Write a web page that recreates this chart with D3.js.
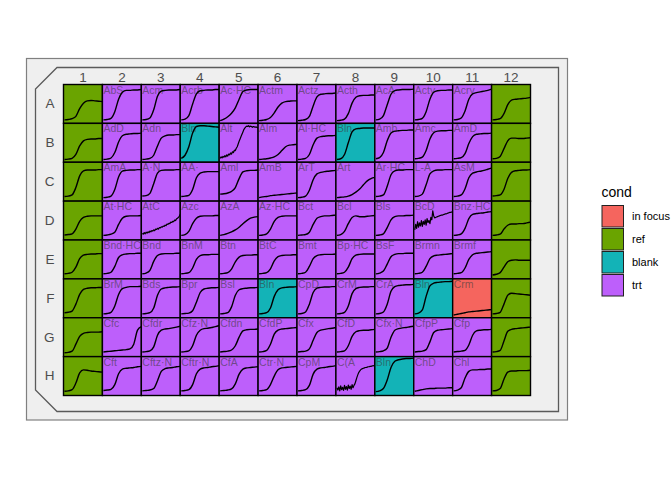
<!DOCTYPE html>
<html><head><meta charset="utf-8">
<script src="https://cdn.jsdelivr.net/npm/d3@7"></script>
<style>body{margin:0;background:#fff;} text{font-family:"Liberation Sans",Arial,sans-serif;}</style>
</head><body>
<script>
// ---------- data ----------
const colLabels = ["1","2","3","4","5","6","7","8","9","10","11","12"];
const rowLabels = ["A","B","C","D","E","F","G","H"];
const wellNames = [
  ["","AbS","Acm","Acrb","Ac·HC","Actm","Actz","Acth","AcA","Acty","Acry",""],
  ["","AdD","Adn","Bln","Alt","Alm","Al·HC","Bln","Amb","Amc","AmD",""],
  ["","AmA","A·N","AA·","Aml","AmB","ArT","Art","Ar·HC","L-A","AsM",""],
  ["","At·HC","AtC","Azc","AzA","Az·HC","Bct","Bcl","Bls","BcD","Bnz·HC",""],
  ["","Bnd·HC","Bnd","BnM","Btn","BtC","Bmt","Bp·HC","BsF","Brmn","Brmf",""],
  ["","BrM","Bds","Bpr","Bsl","Bln","CpD","CrM","CrA","Bln","Crm",""],
  ["","Cfc","Cfdr","Cfz·N","Cfdn","CfdP","Cfx","CfD","Cfx·N","CfpP","Cfp",""],
  ["","Cft","Cftz·N","Cftr·N","CfA","Ctr·N","CpM","C(A","Bln","ChD","Chl",""]
];
// R = ref, T = trt, B = blank, F = in focus
const condCodes = [
  "RTTTTTTTTTTR",
  "RTTBTTTBTTTR",
  "RTTTTTTTTTTR",
  "RTTTTTTTTTTR",
  "RTTTTTTTTTTR",
  "RTTTTBTTTBFR",
  "RTTTTTTTTTTR",
  "RTTTTTTTBTTR"
];
const condLevels = ["in focus","ref","blank","trt"];
const condKeys = ["F","R","B","T"];
const condColors = ["#F5655E","#6AA400","#13B3B7","#BD5FFB"];

// growth curves (percent of well height), equally spaced in time
const curvesA = [
  [9,10,12,18,38,52,58,59,58,57,56],
  [9,10,13,30,62,80,85,85,86,86,87],
  [9,10,14,35,70,83,85,86,86,86,87],
  [9,11,20,50,76,84,85,86,86,87,87],
  [7,11,17,26,40,62,82,86,87,87,87],
  [7,8,10,15,27,42,52,56,57,58,58],
  [7,8,10,18,45,68,75,76,77,77,78],
  [7,8,11,25,52,67,71,72,72,73,73],
  [9,11,20,48,75,84,86,87,87,87,88],
  [9,10,13,30,62,80,84,85,85,86,86],
  [9,10,14,32,62,76,79,81,83,85,88],
  [9,10,12,25,48,60,62,63,64,65,67]
];
const curvesB = [
  [7,8,10,20,42,55,59,60,60,61,61],
  [7,8,11,25,52,68,72,73,74,74,75],
  [7,8,10,18,42,62,68,70,70,71,71],
  [10,18,40,75,92,94,94,93,92,91,90],
  [10,14,11,15,13,17,14,19,16,21,19,24,21,27,25,31,30,36,40,47,54,60,66,72,78,84,88,91,93,92,94,91,93,92,90,92,91,90,91,89,89],
  [7,8,9,11,14,20,30,40,44,45,46],
  [7,8,10,20,45,62,66,67,68,68,69],
  [7,9,20,50,78,86,87,88,88,88,88],
  [9,12,25,55,75,80,81,82,82,83,83],
  [9,10,13,30,60,76,80,81,81,82,82],
  [9,10,12,22,48,66,72,73,74,74,75],
  [9,10,15,35,55,62,62,61,61,62,63]
];
const curvesC = [
  [12,13,16,35,65,78,80,80,80,81,81],
  [9,10,13,30,62,77,79,80,80,81,81],
  [13,14,20,45,72,79,80,80,80,81,81],
  [12,13,15,30,60,72,75,76,76,76,76],
  [18,19,21,25,35,58,75,78,79,79,80],
  [9,11,12,14,15,16,17,18,19,20,21],
  [9,10,13,28,55,70,74,76,77,78,79],
  [9,10,11,13,17,23,31,42,52,58,61],
  [12,13,16,38,68,78,80,80,81,81,81],
  [12,13,18,42,70,78,80,80,81,81,81],
  [12,13,16,32,60,72,75,77,79,82,85],
  [13,14,16,30,58,74,78,79,80,80,81]
];
const curvesD = [
  [13,14,16,28,48,58,61,62,62,62,62],
  [12,13,15,20,40,56,61,62,62,62,63],
  [17,15,19,16,20,18,21,19,23,21,24,23,26,24,28,27,30,28,32,31,34,33,36,35,38,37,41,40,43,42,46,45,48,47,51,50,54,56,58,61,66],
  [12,14,22,42,56,61,62,62,62,63,63],
  [12,14,17,21,26,33,42,50,56,59,60],
  [12,13,16,28,48,58,61,62,62,62,62],
  [12,13,14,20,40,56,60,62,62,63,64],
  [12,14,22,42,58,62,60,60,61,62,63],
  [12,13,16,32,52,60,62,62,63,63,64],
  [26,40,30,47,33,44,36,50,35,48,40,52,38,55,45,50,42,58,52,75,62,57,58,59,60,61,62,63,64,64,65,66,67,67,68,69,70,71,71,72,73],
  [12,13,16,30,55,66,68,69,70,72,73],
  [12,13,15,28,38,41,41,42,42,44,46]
];
const curvesE = [
  [13,14,17,30,52,61,63,64,64,65,65],
  [13,14,17,32,55,62,64,65,65,66,66],
  [13,15,22,45,60,64,65,65,65,66,66],
  [13,14,16,28,50,60,62,62,63,63,63],
  [13,14,16,25,44,56,60,61,61,62,62],
  [13,14,16,26,46,57,60,61,61,62,62],
  [13,14,17,32,52,60,62,63,63,63,64],
  [13,14,17,30,52,61,63,64,64,64,64],
  [13,15,20,38,57,63,65,65,66,66,66],
  [13,14,17,32,52,59,61,62,63,64,65],
  [13,14,16,28,50,62,66,67,68,69,70],
  [10,12,16,30,44,48,49,48,48,48,48]
];
const curvesF = [
  [13,14,17,35,60,73,76,77,77,78,78],
  [10,11,14,30,60,75,78,80,80,80,81],
  [10,11,13,25,58,74,77,78,79,79,80],
  [10,11,12,18,40,65,74,76,77,77,78],
  [10,11,13,28,58,72,75,76,77,77,78],
  [10,11,13,25,55,72,77,78,79,79,80],
  [10,11,15,35,65,76,78,79,79,80,80],
  [10,11,14,30,62,75,78,79,79,80,80],
  [10,11,15,35,68,80,83,84,85,85,86],
  [10,12,20,55,82,89,91,92,93,93,94],
  [7,9,11,13,15,16,17,18,19,20,21],
  [10,11,14,35,58,63,62,61,60,59,58]
];
const curvesG = [
  [10,11,14,32,52,60,62,63,63,63,64],
  [12,13,14,15,16,17,18,20,32,68,77],
  [12,13,15,25,55,68,71,72,74,76,78],
  [12,13,15,28,55,68,72,73,75,77,80],
  [12,13,14,17,28,50,66,69,70,70,71],
  [12,13,16,32,58,68,71,72,73,74,75],
  [12,13,14,20,42,62,68,70,72,73,75],
  [12,13,15,28,52,64,67,68,68,69,70],
  [12,13,15,22,50,68,72,74,75,77,78],
  [12,13,14,18,38,62,68,69,70,71,72],
  [12,13,14,16,30,55,66,68,69,69,70],
  [12,13,16,40,65,70,72,73,74,75,76]
];
const curvesH = [
  [11,12,15,32,58,66,65,63,62,61,60],
  [13,14,16,28,56,68,70,71,72,74,75],
  [12,13,14,18,38,62,69,71,72,74,75],
  [12,13,15,28,56,68,71,72,74,75,77],
  [12,13,14,17,30,55,68,71,72,73,74],
  [12,13,15,28,50,66,71,72,73,74,75],
  [12,13,15,26,55,68,71,72,74,75,77],
  [20,14,22,12,25,15,21,13,26,16,23,14,27,18,24,16,28,20,26,30,38,46,53,59,63,66,68,69,70,71,72,72,73,74,74,75,75,76,76,77,77],
  [10,12,18,40,72,88,92,94,95,95,96],
  [11,13,15,17,18,18,19,19,19,20,20],
  [12,14,20,45,62,66,66,67,67,68,68],
  [12,13,18,42,60,63,63,64,64,64,65]
];
const curveRows = [curvesA,curvesB,curvesC,curvesD,curvesE,curvesF,curvesG,curvesH];

// ---------- drawing ----------
const W = 672, H = 480;
const svg = d3.select("body").append("svg").attr("width", W).attr("height", H);

// plate outline
svg.append("rect").attr("x", 26.5).attr("y", 58.5).attr("width", 541).attr("height", 361.5)
  .attr("fill", "#EFEFEF").attr("stroke", "#808080").attr("stroke-width", 1.2);
const inner = d3.path();
inner.moveTo(57, 67.5); inner.lineTo(558.5, 67.5); inner.lineTo(558.5, 411.5);
inner.lineTo(57, 411.5); inner.lineTo(35.5, 390); inner.lineTo(35.5, 89); inner.closePath();
svg.append("path").attr("d", inner.toString()).attr("fill", "#EFEFEF")
  .attr("stroke", "#5A5A5A").attr("stroke-width", 1.3);

const x = d3.scaleBand().domain(colLabels).range([63.5, 530.5]);
const y = d3.scaleBand().domain(rowLabels).range([84.5, 395.5]);
const color = d3.scaleOrdinal().domain(condKeys).range(condColors);

const wells = [];
rowLabels.forEach((r, i) => colLabels.forEach((c, j) => {
  wells.push({row: r, col: c, name: wellNames[i][j], cond: condCodes[i][j], vals: curveRows[i][j]});
}));

const g = svg.append("g");
const cells = g.selectAll("g.well").data(wells).enter().append("g").attr("class", "well")
  .attr("transform", d => `translate(${x(d.col)},${y(d.row)})`);

cells.append("rect").attr("width", x.bandwidth()).attr("height", y.bandwidth())
  .attr("fill", d => color(d.cond));

cells.append("text").attr("x", 1).attr("y", 9)
  .attr("font-size", 10.5).attr("fill", "#3A3A3A").attr("fill-opacity", 0.6)
  .text(d => d.name);

const ty = d3.scaleLinear().domain([0, 100]).range([y.bandwidth(), 0]);
cells.append("path").attr("fill", "none").attr("stroke", "#000")
  .attr("stroke-width", d => d.vals.length > 11 ? 1.2 : 1.4)
  .attr("stroke-linejoin", "round")
  .attr("d", d => {
    const tx = d3.scaleLinear().domain([0, d.vals.length - 1]).range([1, x.bandwidth()]);
    const noisy = d.vals.length > 11;
    return d3.line().x((v, k) => tx(k)).y(v => ty(v))
      .curve(noisy ? d3.curveLinear : d3.curveMonotoneX)(d.vals);
  });

// grid lines on top
cells.append("rect").attr("width", x.bandwidth()).attr("height", y.bandwidth())
  .attr("fill", "none").attr("stroke", "#000").attr("stroke-width", 1.4);

// axes labels
const axTop = svg.append("g").attr("transform", `translate(0,${y.range()[0]})`)
  .call(d3.axisTop(x).tickSize(0).tickPadding(3));
const axLeft = svg.append("g").attr("transform", `translate(${x.range()[0]},0)`)
  .call(d3.axisLeft(y).tickSize(0).tickPadding(9));
[axTop, axLeft].forEach(a => {
  a.select(".domain").remove();
  a.selectAll("text").attr("font-size", 13.5).attr("fill", "#4D4D4D")
    .attr("font-family", "Liberation Sans, Arial, sans-serif");
});

// legend
const lg = svg.append("g").attr("transform", "translate(601.5,0)");
lg.append("text").attr("x", 0).attr("y", 197).attr("font-size", 14).attr("fill", "#000").text("cond");
const ly = d3.scaleBand().domain(condLevels).range([205, 297]);
condLevels.forEach((lv, i) => {
  lg.append("rect").attr("x", 0.5).attr("y", ly(lv) + 0.5).attr("width", 21.5).attr("height", ly.bandwidth() - 1.5)
    .attr("fill", condColors[i]).attr("stroke", "#222").attr("stroke-width", 1);
  lg.append("text").attr("x", 30.5).attr("y", ly(lv) + ly.bandwidth() / 2).attr("dy", "0.35em")
    .attr("font-size", 11).attr("fill", "#000").text(lv);
});
</script>
</body></html>
